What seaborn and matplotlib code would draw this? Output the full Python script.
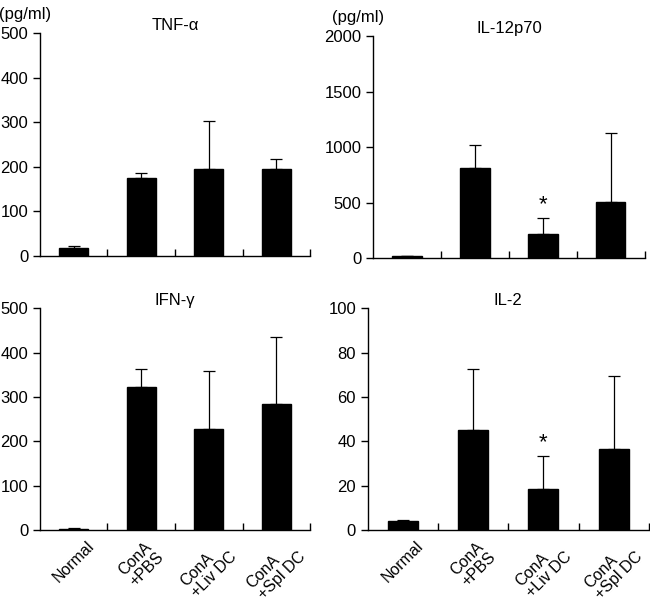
import numpy as np
import pandas as pd
import matplotlib
matplotlib.use("Agg")
import matplotlib.pyplot as plt
import seaborn as sns

categories = ["Normal", "ConA\n+PBS", "ConA\n+Liv DC", "ConA\n+Spl DC"]

tnf_mean = [18, 174, 196, 196]
tnf_err = [4, 13, 106, 22]

il12_mean = [15, 815, 220, 502]
il12_err = [6, 207, 144, 629]

ifn_mean = [2, 322, 228, 285]
ifn_err = [3, 41, 130, 150]

il2_mean = [3.9, 45, 18.7, 36.3]
il2_err = [0.6, 27.7, 14.6, 33]

panels = [
    dict(title="TNF-α", mean=tnf_mean, err=tnf_err, ymax=500, ticks=[0, 100, 200, 300, 400, 500],
         unit=True, star=None, rect=[0.0615, 0.5755, 0.4155, 0.3695], show_x=False),
    dict(title="IL-12p70", mean=il12_mean, err=il12_err, ymax=2000, ticks=[0, 500, 1000, 1500, 2000],
         unit=True, star=2, rect=[0.574, 0.572, 0.418, 0.368], show_x=False),
    dict(title="IFN-γ", mean=ifn_mean, err=ifn_err, ymax=500, ticks=[0, 100, 200, 300, 400, 500],
         unit=False, star=None, rect=[0.0615, 0.121, 0.4155, 0.368], show_x=True),
    dict(title="IL-2", mean=il2_mean, err=il2_err, ymax=100, ticks=[0, 20, 40, 60, 80, 100],
         unit=False, star=2, rect=[0.566, 0.121, 0.432, 0.368], show_x=True),
]

sns.set_style("white")
plt.rcParams["font.family"] = ["Liberation Sans", "DejaVu Sans"]
plt.rcParams["font.size"] = 11.5
plt.rcParams["text.color"] = "black"
plt.rcParams["xtick.color"] = "black"
plt.rcParams["ytick.color"] = "black"

fig = plt.figure(figsize=(6.5, 6.03), dpi=100)

for p in panels:
    ax = fig.add_axes(p["rect"])
    df = pd.DataFrame({"group": categories, "value": p["mean"]})
    sns.barplot(data=df, x="group", y="value", color="black", width=0.43,
                saturation=1, ax=ax, errorbar=None, edgecolor="black")
    xs = np.arange(len(categories))
    ax.errorbar(xs, p["mean"], yerr=[np.zeros(len(xs)), p["err"]], fmt="none",
                ecolor="black", elinewidth=0.9, capsize=4, capthick=0.9)
    ax.set_xlim(-0.5, 3.5)
    ax.set_ylim(0, p["ymax"])
    ax.set_yticks(p["ticks"])
    ax.set_yticklabels([str(t) for t in p["ticks"]], fontsize=12)
    ax.set_xlabel("")
    ax.set_ylabel("")
    for s in ["top", "right"]:
        ax.spines[s].set_visible(False)
    for s in ["left", "bottom"]:
        ax.spines[s].set_color("black")
        ax.spines[s].set_linewidth(1.0)
    ax.tick_params(axis="y", left=True, direction="out", length=5, width=1, color="black", pad=3.5)
    ax.set_xticks(xs)
    ax.set_xticks([0.5, 1.5, 2.5, 3.5], minor=True)
    ax.tick_params(axis="x", which="major", bottom=True, length=0, pad=6)
    ax.tick_params(axis="x", which="minor", bottom=True, direction="in", length=5, width=1, color="black")
    if p["show_x"]:
        ax.set_xticklabels(categories, rotation=45, ha="center", va="top",
                           fontsize=11.5, multialignment="left", linespacing=1.05)
    else:
        ax.set_xticklabels([])
    ax.set_title(p["title"], fontsize=12, pad=1)
    if p["unit"]:
        ax.text(-0.15, 1.05, "(pg/ml)", transform=ax.transAxes, fontsize=12,
                ha="left", va="bottom")
    if p["star"] is not None:
        i = p["star"]
        ax.annotate("*", xy=(i, p["mean"][i] + p["err"][i]), xytext=(0, 2),
                    textcoords="offset points", ha="center", va="bottom", fontsize=16)

fig.savefig("out.png", dpi=100)
